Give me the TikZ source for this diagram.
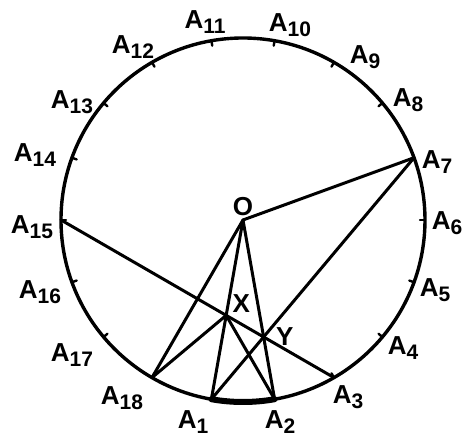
\documentclass[tikz,border=0pt]{standalone}
\usepackage{fontspec}
\setsansfont{Liberation Sans}
\usetikzlibrary{positioning}
\newcommand{\Alab}[1]{A\raisebox{-0.4ex}{\fontsize{10.5}{10.5}\selectfont#1}}
\tikzset{
    every picture/.style={line cap=round,line join=round},
    rim/.style={line width=1.7pt},
    chord/.style={line width=1.5pt},
    pointtick/.style={line width=1.2pt},
    ptlabel/.style={font=\sffamily\bfseries\fontsize{13}{15}\selectfont,inner sep=0pt}
}
\begin{document}
\begin{tikzpicture}[x=0.5pt,y=0.5pt]
    \useasboundingbox (-243,-223) rectangle (225,220);
    \coordinate (O) at (0,0);
    % points on the circle, 20 degrees apart
    \foreach \k in {1,...,18}
        \coordinate (A\k) at ({260+20*(\k-1)}:182);
    \draw[rim] (O) circle[radius=182];
    \foreach \k in {1,...,18}
        \draw[pointtick] (A\k) -- ({260+20*(\k-1)}:177);
    \draw[line width=3pt] (A1) arc[start angle=260,end angle=280,radius=182];
    \coordinate (X) at (intersection of A15--A3 and O--A1);
    \coordinate (Y) at (intersection of A15--A3 and O--A2);
    % chords and radii
    \foreach \x/\y in {O/A7,O/A18,O/A1,O/A2,A15/A3,A1/A7}
        \draw[chord] (\x)--(\y);
    \draw[chord] (A18)--(X)--(A2);
    % labels
    \foreach \k/\lx/\ly in {1/-50/-202,2/37/-202,3/105/-177,4/160/-128,5/192/-70,
        6/204/-3,7/194/58,8/165/120,9/122/163,10/47/195,11/-38/198,12/-110/173,
        13/-171/118,14/-208/65,15/-211/-7,16/-203/-72,17/-171/-135,18/-121/-178}
        \node[ptlabel] (L\k) at (\lx,\ly) {\Alab{\k}};
    \node[ptlabel,above=2pt of O] (Olab) {O};
    \node[ptlabel,above right=1pt and 3pt of X] (Xlab) {X};
    \node[ptlabel,right=6pt of Y] (Ylab) {Y};
\end{tikzpicture}
\end{document}
